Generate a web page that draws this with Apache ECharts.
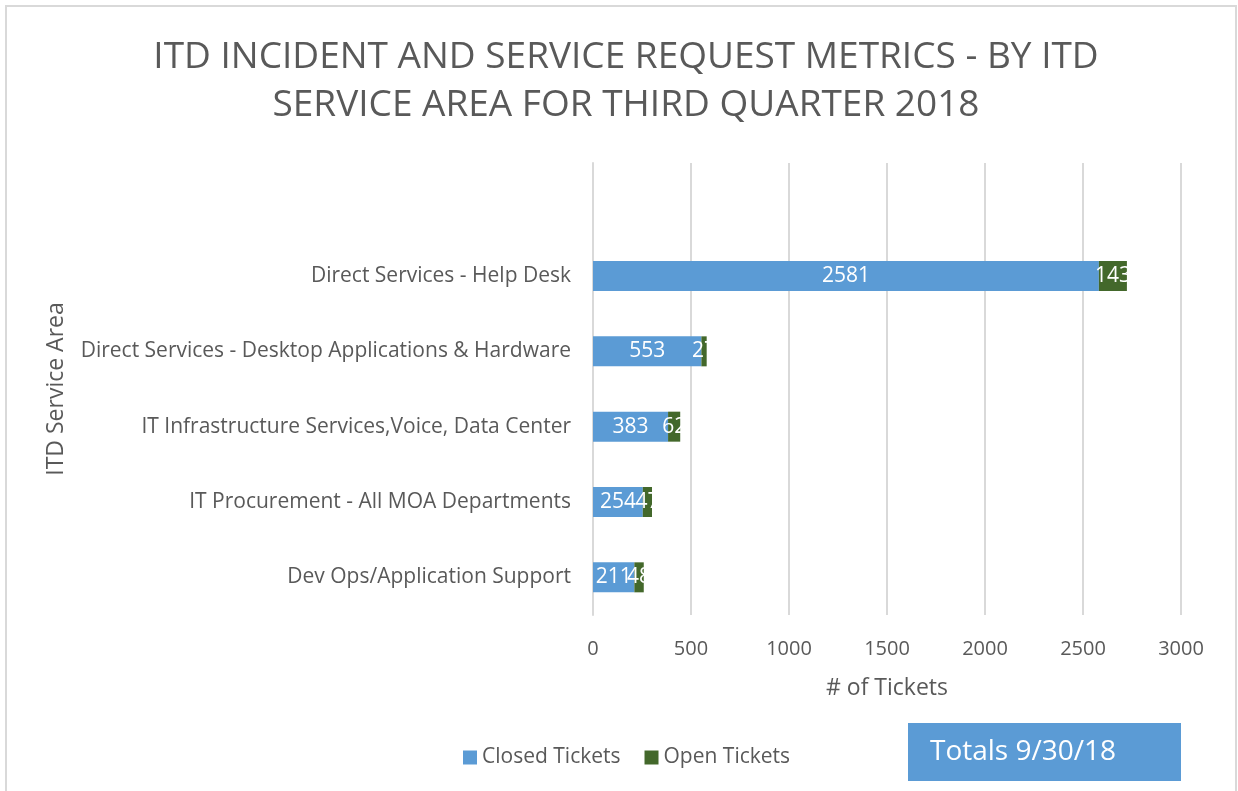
<!DOCTYPE html>
<html>
<head>
<meta charset="utf-8">
<script src="https://cdn.jsdelivr.net/npm/echarts@6/dist/echarts.min.js"></script>
<style>
  html, body { margin: 0; padding: 0; background: #fff; }
  #chart { width: 1238px; height: 791px; }
</style>
</head>
<body>
<div id="chart"></div>
<script>
// categories bottom to top, the empty top row is kept like in the sheet
var categories = [
    'Dev Ops/Application Support',
    'IT Procurement - All MOA Departments',
    'IT Infrastructure Services,Voice, Data Center',
    'Direct Services - Desktop Applications & Hardware',
    'Direct Services - Help Desk',
    ''
];
var closedTickets = [211, 254, 383, 553, 2581, null];
var openTickets = [48, 47, 62, 27, 143, null];
var xTicks = [0, 500, 1000, 1500, 2000, 2500, 3000];

var grey = '#595959';
var font = 'Open Sans';

var myChart = echarts.init(document.getElementById('chart'));
var option = {
    backgroundColor: '#fff',
    animation: false,
    title: {
        text: 'ITD INCIDENT AND SERVICE REQUEST METRICS - BY ITD\nSERVICE AREA FOR THIRD QUARTER 2018',
        left: 621,
        textAlign: 'center',
        top: 28,
        textStyle: {
            fontFamily: font,
            fontWeight: 'normal',
            fontSize: 37,
            lineHeight: 48,
            color: grey
        }
    },
    color: ['#5B9BD5', '#43682B'],
    legend: {
        bottom: 18,
        left: 458,
        itemWidth: 14,
        itemHeight: 14,
        itemGap: 24,
        icon: 'rect',
        textStyle: { fontFamily: font, fontSize: 21, color: grey },
        data: ['Closed Tickets', 'Open Tickets']
    },
    grid: {
        left: 593,
        right: 57,
        top: 163,
        bottom: 176,
        containLabel: false
    },
    xAxis: {
        type: 'value',
        min: xTicks[0],
        max: xTicks[xTicks.length - 1],
        interval: 500,
        name: '# of Tickets',
        nameLocation: 'middle',
        nameGap: 62,
        nameTextStyle: { fontFamily: font, fontSize: 23, color: grey },
        axisLine: { show: false },
        axisTick: { show: false },
        axisLabel: {
            fontFamily: font, fontSize: 20, color: grey, margin: 24,
            formatter: function (v) { return String(v); }
        },
        splitLine: { lineStyle: { color: '#D9D9D9', width: 2 } }
    },
    yAxis: {
        type: 'category',
        data: categories,
        name: 'ITD Service Area',
        nameLocation: 'middle',
        nameRotate: 90,
        nameGap: 525,
        nameTextStyle: { fontFamily: font, fontSize: 23, color: grey },
        axisLine: { show: true, lineStyle: { color: '#D9D9D9', width: 2 } },
        axisTick: { show: false },
        axisLabel: { fontFamily: font, fontSize: 21, color: grey, margin: 22 }
    },
    series: [
        {
            name: 'Closed Tickets',
            type: 'bar',
            stack: 'total',
            barWidth: 30,
            data: closedTickets,
            label: {
                show: true,
                position: 'inside',
                color: '#fff',
                fontFamily: font,
                fontSize: 21
            }
        },
        {
            name: 'Open Tickets',
            type: 'bar',
            stack: 'total',
            barWidth: 30,
            data: openTickets,
            label: {
                show: true,
                position: 'inside',
                color: '#fff',
                fontFamily: font,
                fontSize: 21
            }
        }
    ],
    graphic: [
        {
            type: 'rect',
            shape: { x: 6, y: 6, width: 1230, height: 800 },
            style: { fill: 'none', stroke: '#D9D9D9', lineWidth: 2 },
            silent: true
        },
        {
            type: 'group',
            left: 908,
            top: 723,
            children: [
                {
                    type: 'rect',
                    shape: { x: 0, y: 0, width: 273, height: 58 },
                    style: { fill: '#5B9BD5' }
                },
                {
                    type: 'text',
                    x: 22,
                    y: 29,
                    style: {
                        text: 'Totals 9/30/18',
                        fill: '#fff',
                        font: '28px "Open Sans"',
                        verticalAlign: 'middle'
                    }
                }
            ]
        }
    ]
};
myChart.setOption(option);
</script>
</body>
</html>
